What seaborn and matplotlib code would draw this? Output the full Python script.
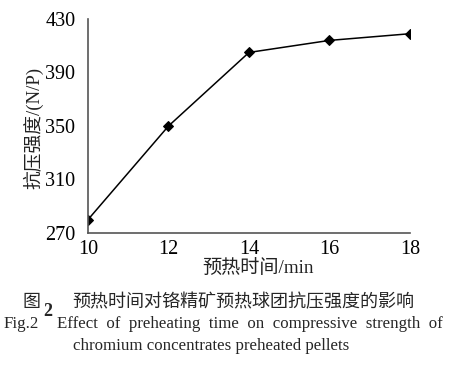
import matplotlib
matplotlib.use("Agg")
import matplotlib.pyplot as plt
import seaborn as sns
import pandas as pd

# preheating time (min) vs compressive strength (N/P)
preheat_time = [10, 12, 14, 16, 18]
strength = [280, 350, 405, 414, 419]
x_ticks = [10, 12, 14, 16, 18]
y_ticks = [270, 310, 350, 390, 430]

df = pd.DataFrame({"time": preheat_time, "strength": strength})

sns.set_style("white")
plt.rcParams["font.family"] = ["Liberation Serif", "Noto Sans CJK SC"]

W, H = 452, 382
fig = plt.figure(figsize=(W / 100, H / 100), dpi=100)
ax = fig.add_axes([88 / W, 1 - 233 / H, (410 - 88) / W, (233 - 19) / H])

sns.lineplot(data=df, x="time", y="strength", ax=ax, color="black",
             marker="D", markersize=5, markeredgecolor="black", linewidth=1.1)

ax.set_xlim(10, 18)
ax.set_ylim(270, 430)
ax.set_xticks(x_ticks)
ax.set_yticks(y_ticks)
ax.tick_params(direction="in", length=3, width=0.8, color="#555555",
               labelsize=14.5, labelcolor="black")
ax.tick_params(axis="x", pad=5)
ax.tick_params(axis="y", pad=9)
for side in ["top", "right"]:
    ax.spines[side].set_visible(False)
for side in ["left", "bottom"]:
    ax.spines[side].set_color("#555555")
    ax.spines[side].set_linewidth(1.2)

ax.set_xlabel("")
ax.set_ylabel("")

def px(x, y):
    return x / W, 1 - y / H

fig.text(*px(258, 268), "预热时间/min", ha="center", va="center", fontsize=13.8,
         color="#222222")
fig.text(*px(33, 128), "抗压强度/(N/P)", ha="center", va="center", fontsize=13.5,
         rotation=90, color="#222222")

# caption
fig.text(*px(23, 302), "图", ha="left", va="center", fontsize=13,
         family=["Noto Sans CJK SC"])
fig.text(*px(43, 311), "2", ha="left", va="center", fontsize=13,
         fontweight="bold")
fig.text(*px(72, 302), "预热时间对铬精矿预热球团抗压强度的影响", ha="left",
         va="center", fontsize=13, family=["Noto Sans CJK SC"])
fig.text(*px(4, 324), "Fig.2", ha="left", va="center", fontsize=12.2)
fig.text(*px(57, 324),
         "Effect  of  preheating  time  on  compressive  strength  of",
         ha="left", va="center", fontsize=12.2)
fig.text(*px(73, 346), "chromium concentrates preheated pellets", ha="left",
         va="center", fontsize=12.2)

fig.savefig("out.png", dpi=100)
